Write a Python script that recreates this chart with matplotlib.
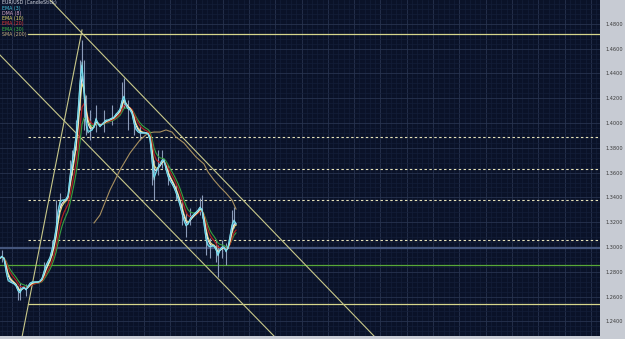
import numpy as np
import pandas as pd
import matplotlib
matplotlib.use("Agg")
import matplotlib.pyplot as plt

# ---------------- data ----------------
bars = list(range(0, 238, 2))
close = [1.2911, 1.2927, 1.2903, 1.2798, 1.2726, 1.2718, 1.2710, 1.2702, 1.2685, 1.2645,
         1.2629, 1.2669, 1.2677, 1.2653, 1.2685, 1.2710, 1.2718, 1.2718, 1.2718, 1.2718,
         1.2726, 1.2750, 1.2806, 1.2855, 1.2887, 1.2919, 1.2984, 1.3056, 1.3153, 1.3298,
         1.3371, 1.3379, 1.3379, 1.3387, 1.3419, 1.3581, 1.3685, 1.3782, 1.3903, 1.4105,
         1.4347, 1.4492, 1.4226, 1.3984, 1.3919, 1.3935, 1.3944, 1.3976, 1.4040, 1.3992,
         1.3968, 1.3992, 1.4008, 1.4024, 1.4024, 1.4032, 1.4040, 1.4048, 1.4073, 1.4089,
         1.4113, 1.4185, 1.4218, 1.4137, 1.4113, 1.4105, 1.4073, 1.3992, 1.3944, 1.3927,
         1.3919, 1.3919, 1.3919, 1.3919, 1.3911, 1.3863, 1.3685, 1.3540, 1.3605, 1.3645,
         1.3669, 1.3702, 1.3702, 1.3621, 1.3565, 1.3532, 1.3508, 1.3476, 1.3435, 1.3387,
         1.3331, 1.3266, 1.3210, 1.3169, 1.3185, 1.3226, 1.3250, 1.3266, 1.3282, 1.3298,
         1.3323, 1.3298, 1.3177, 1.3056, 1.3008, 1.3000, 1.3008, 1.3008, 1.2976, 1.2927,
         1.2984, 1.3000, 1.3000, 1.2960, 1.3000, 1.3097, 1.3185, 1.3218, 1.3185]

wick_bar = [2, 18, 20, 26, 44, 52, 56, 60, 70, 72, 76, 80, 82, 84, 86, 90, 96, 104, 112,
            122, 124, 128, 134, 140, 152, 154, 158, 162, 168, 176, 182, 186, 190, 200,
            202, 206, 210, 216, 218, 222, 226, 232, 234]
wick_high = [1.2976, 1.2685, 1.2710, 1.2702, 1.2879, 1.3056, 1.3379, 1.3435, 1.3702, 1.3782,
             1.4024, 1.4508, 1.4669, 1.4508, 1.4226, 1.4105, 1.4145, 1.4105, 1.4145, 1.4331,
             1.4363, 1.4185, 1.4065, 1.3984, 1.3782, 1.3702, 1.3782, 1.3782, 1.3661, 1.3500,
             1.3379, 1.3274, 1.3315, 1.3395, 1.3419, 1.3121, 1.3073, 1.3056, 1.3016, 1.3056,
             1.3032, 1.3298, 1.3323]
wick_low = [1.2879, 1.2573, 1.2573, 1.2605, 1.2774, 1.2935, 1.3097, 1.3323, 1.3500, 1.3581,
            1.3782, 1.4105, 1.4347, 1.3944, 1.3903, 1.3863, 1.3927, 1.3927, 1.3984, 1.4105,
            1.4121, 1.3944, 1.3903, 1.3863, 1.3500, 1.3379, 1.3581, 1.3637, 1.3500, 1.3379,
            1.3177, 1.3081, 1.3177, 1.3258, 1.3234, 1.2935, 1.2911, 1.2879, 1.2758, 1.2911,
            1.2855, 1.3121, 1.3153]

sma_bar = [94, 100, 110, 120, 130, 140, 148, 154, 160, 166, 172, 176, 184, 190, 196, 204,
           208, 214, 220, 226, 232, 236]
sma_200 = [1.3194, 1.3258, 1.3460, 1.3621, 1.3758, 1.3863, 1.3919, 1.3927, 1.3927, 1.3944,
           1.3927, 1.3887, 1.3839, 1.3782, 1.3726, 1.3669, 1.3605, 1.3540, 1.3484, 1.3435,
           1.3379, 1.3306]

# horizontal levels
level_solid_yellow = [1.4715, 1.2538]
level_dashed = [1.3885, 1.3629, 1.3377, 1.3054]
level_blue = 1.2995
level_green = 1.2852

# trend lines: (bar1, price1, bar2, price2)
trend_lines = [(22, 1.2274, 82, 1.4750),
               (50, 1.4992, 375, 1.2274),
               (0, 1.4548, 275, 1.2274)]

legend_labels = ["EUR/USD (CandleStick)", "EMA (3)", "DMA (8)", "EMA (10)",
                 "EMA (20)", "EMA (30)", "SMA (200)"]
price_ticks = [1.24, 1.26, 1.28, 1.30, 1.32, 1.34, 1.36, 1.38, 1.40, 1.42, 1.44, 1.46, 1.48]

# ---------------- styling ----------------
BG = "#0a1228"
PANEL = "#c7cbd3"
legend_colors = ["#d8dce8", "#48c8e0", "#d8a8c8", "#e8e070", "#e03838", "#40c048", "#c8b080"]
line_styles = [("#48c8e0", 0.85, 0.9), ("#f0eaf0", 0.6, 0.8), ("#e8e070", 0.5, 0.8),
               ("#b02020", 0.3, 0.9), ("#38a040", 0.22, 0.8)]

YMIN, YMAX = 1.22823, 1.49919

fig = plt.figure(figsize=(6.25, 3.39), dpi=100, facecolor=PANEL)
ax = fig.add_axes([0, 3 / 339, 600 / 625, 336 / 339])
ax.set_facecolor(BG)

# grid
ax.set_xticks(np.arange(12.2, 600, 26.3))
ax.set_xticks(np.arange(12.2 - 26.3, 600, 26.3 / 5), minor=True)
ax.set_yticks(price_ticks)
ax.set_yticks(np.arange(1.228, 1.50, 0.004), minor=True)
ax.set_xlim(0, 600)
ax.set_ylim(YMIN, YMAX)
ax.grid(which="major", color="#27334f", lw=0.6)
ax.grid(which="minor", color="#141e38", lw=0.5)
ax.set_axisbelow(True)
ax.tick_params(axis="x", which="both", length=0, labelbottom=False)
ax.yaxis.tick_right()
ax.tick_params(axis="y", which="both", length=0, pad=4, labelsize=3.6, labelcolor="#3a3a3a")
ax.set_yticklabels([f"{t:.4f}" for t in price_ticks])
ax.text(604, 1.50, "1.5000", fontsize=3.6, color="#3a3a3a", va="center", ha="left",
        clip_on=False)
for s in ax.spines.values():
    s.set_visible(False)

# horizontal levels
for lv in level_solid_yellow:
    ax.plot([28, 600], [lv, lv], color="#d6d68c", lw=0.9, zorder=3)
for lv in level_dashed:
    ax.plot([28, 600], [lv, lv], color="#e6e2b8", lw=0.8, ls=(0, (2.2, 2.2)), zorder=3)
ax.axhline(level_blue, color="#44557c", lw=1.6, zorder=3)
ax.axhline(level_green, color="#58a838", lw=0.9, zorder=3)

# trend lines
for b1, p1, b2, p2 in trend_lines:
    ax.plot([b1, b2], [p1, p2], color="#c8c88a", lw=0.8, zorder=4)

# candles (wicks)
ax.vlines(wick_bar, wick_low, wick_high, color="#8a9ab8", lw=0.8, zorder=5)

# moving averages
cs = pd.Series(close, index=bars)
for color, alpha, lw in reversed(line_styles):
    ax.plot(bars, cs.ewm(alpha=alpha, adjust=False).mean().values, color=color, lw=lw,
            zorder=6)
ax.plot(bars, close, color="#9fe8f4", lw=0.6, zorder=7, alpha=0.8)
ax.plot(sma_bar, sma_200, color="#a89060", lw=0.8, zorder=5)

ax.set_xlim(0, 600)
ax.set_ylim(YMIN, YMAX)

# legend text
for i, (lab, col) in enumerate(zip(legend_labels, legend_colors)):
    ax.text(2, YMAX - (2.7 + 5.3 * i) / 1240, lab, fontsize=3.4, color=col,
            va="center", ha="left", zorder=10)

fig.savefig("out.png", dpi=100, facecolor=PANEL)
